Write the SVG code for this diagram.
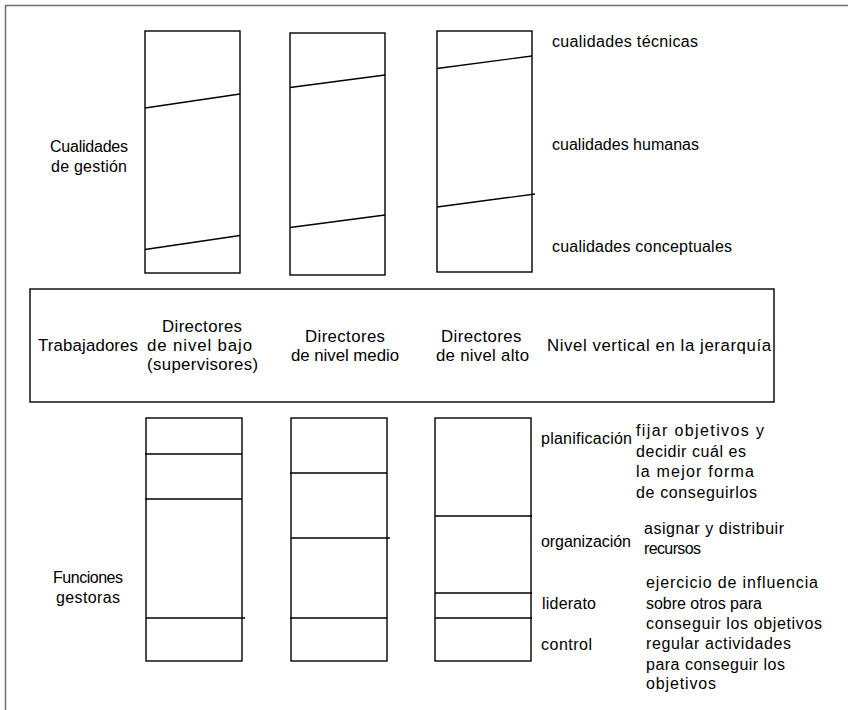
<svg xmlns="http://www.w3.org/2000/svg" width="848" height="710" viewBox="0 0 848 710">
  <style>
    .frame { fill: none; stroke: #6e6e6e; stroke-width: 1.5; }
    .box { fill: #ffffff; stroke: #000000; stroke-width: 1.4; }
    .div { fill: none; stroke: #000000; stroke-width: 1.4; }
    text { font-family: "Liberation Sans", Arial, sans-serif; font-size: 16px; fill: #000000; }
    .c { text-anchor: middle; }
    .lvl { font-size: 16.8px; }
  </style>

  <rect width="848" height="710" fill="#ffffff"/>
  <!-- page frame: only top and left edges fall inside the sheet -->
  <polyline class="frame" points="5.5,710 5.5,5.5 848,5.5"/>

  <!-- side captions -->
  <g id="label-cualidades-gestion">
    <text class="c" x="89" y="152" textLength="78" lengthAdjust="spacing">Cualidades</text>
    <text class="c" x="89" y="172" textLength="76" lengthAdjust="spacing">de gestión</text>
  </g>
  <g id="label-funciones-gestoras">
    <text class="c" x="88" y="583" textLength="70" lengthAdjust="spacing">Funciones</text>
    <text class="c" x="88" y="603" textLength="64" lengthAdjust="spacing">gestoras</text>
  </g>

  <!-- skill columns (technical / human / conceptual) -->
  <g id="skills-low">
    <rect class="box" x="145" y="31" width="95" height="242"/>
  </g>
  <g id="skills-mid">
    <rect class="box" x="290" y="33" width="95" height="242"/>
  </g>
  <g id="skills-top">
    <rect class="box" x="437" y="31" width="95" height="241"/>
  </g>

  <g id="skill-labels">
    <text x="552" y="47" textLength="146" lengthAdjust="spacing">cualidades técnicas</text>
    <text x="552" y="150" textLength="147" lengthAdjust="spacing">cualidades humanas</text>
    <text x="552" y="252" textLength="180" lengthAdjust="spacing">cualidades conceptuales</text>
  </g>

  <!-- hierarchy band -->
  <g id="hierarchy">
    <rect class="box" x="30" y="289" width="744" height="113"/>
    <text class="lvl" x="38" y="351" textLength="100" lengthAdjust="spacing">Trabajadores</text>
    <text class="lvl" x="162" y="332" textLength="80" lengthAdjust="spacing">Directores</text>
    <text class="lvl" x="147" y="351" textLength="105" lengthAdjust="spacing">de nivel bajo</text>
    <text class="lvl" x="147" y="370" textLength="111" lengthAdjust="spacing">(supervisores)</text>
    <text class="lvl" x="305" y="342" textLength="80" lengthAdjust="spacing">Directores</text>
    <text class="lvl" x="291" y="361" textLength="108" lengthAdjust="spacing">de nivel medio</text>
    <text class="lvl" x="441" y="342" textLength="80.5" lengthAdjust="spacing">Directores</text>
    <text class="lvl" x="436" y="361" textLength="93" lengthAdjust="spacing">de nivel alto</text>
    <text class="lvl" x="547" y="351" textLength="224" lengthAdjust="spacing">Nivel vertical en la jerarquía</text>
  </g>

  <!-- function columns (planning / organising / leading / control) -->
  <g id="functions-low">
    <rect class="box" x="146" y="418" width="96" height="243"/>
  </g>
  <g id="functions-mid">
    <rect class="box" x="291" y="418" width="96" height="243"/>
  </g>
  <g id="functions-top">
    <rect class="box" x="435" y="418" width="96" height="243"/>
  </g>

  <!-- dividing lines inside the columns -->
  <g id="connectors">
    <line class="div" x1="145" y1="108" x2="240" y2="94"/>
    <line class="div" x1="145" y1="249.5" x2="240" y2="235.5"/>
    <line class="div" x1="290" y1="87.5" x2="385" y2="75"/>
    <line class="div" x1="290" y1="227.5" x2="385" y2="215"/>
    <line class="div" x1="437" y1="68.5" x2="532" y2="56"/>
    <line class="div" x1="437" y1="207" x2="535" y2="194"/>

    <line class="div" x1="145" y1="454" x2="242" y2="454"/>
    <line class="div" x1="145" y1="499" x2="242" y2="499"/>
    <line class="div" x1="146" y1="618" x2="245" y2="618"/>
    <line class="div" x1="290" y1="473" x2="387" y2="473"/>
    <line class="div" x1="291" y1="538" x2="390" y2="538"/>
    <line class="div" x1="290" y1="618" x2="387" y2="618"/>
    <line class="div" x1="435" y1="516" x2="532" y2="516"/>
    <line class="div" x1="435" y1="593" x2="532" y2="593"/>
    <line class="div" x1="435" y1="618" x2="532" y2="618"/>
  </g>

  <g id="function-labels">
    <text x="541" y="444" textLength="91" lengthAdjust="spacing">planificación</text>
    <text x="541" y="547" textLength="90" lengthAdjust="spacing">organización</text>
    <text x="542" y="609" textLength="54" lengthAdjust="spacing">liderato</text>
    <text x="541" y="650" textLength="51" lengthAdjust="spacing">control</text>
  </g>

  <g id="function-notes">
    <text x="636" y="436" textLength="128" lengthAdjust="spacing">fijar objetivos y</text>
    <text x="636" y="456.5" textLength="110" lengthAdjust="spacing">decidir cuál es</text>
    <text x="636" y="477" textLength="118" lengthAdjust="spacing">la mejor forma</text>
    <text x="636" y="497.5" textLength="121" lengthAdjust="spacing">de conseguirlos</text>
    <text x="644" y="533.5" textLength="140" lengthAdjust="spacing">asignar y distribuir</text>
    <text x="644" y="554" textLength="57" lengthAdjust="spacing">recursos</text>
    <text x="646" y="588" textLength="172" lengthAdjust="spacing">ejercicio de influencia</text>
    <text x="646" y="608.5" textLength="116" lengthAdjust="spacing">sobre otros para</text>
    <text x="646" y="629" textLength="176" lengthAdjust="spacing">conseguir los objetivos</text>
    <text x="646" y="649" textLength="145" lengthAdjust="spacing">regular actividades</text>
    <text x="646" y="669.5" textLength="139" lengthAdjust="spacing">para conseguir los</text>
    <text x="646" y="689" textLength="70" lengthAdjust="spacing">objetivos</text>
  </g>
</svg>
